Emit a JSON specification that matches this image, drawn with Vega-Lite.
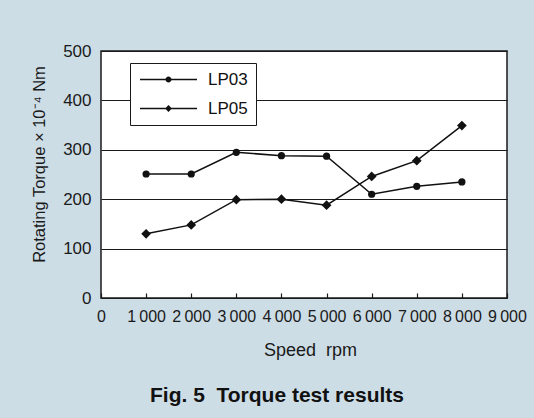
{
  "$schema": "https://vega.github.io/schema/vega-lite/v6.json",
  "width": 406,
  "height": 247,
  "autosize": {"type": "none"},
  "padding": {"left": 101, "top": 51, "right": 27, "bottom": 120},
  "background": "#cddde6",
  "config": {
    "font": "Liberation Sans",
    "view": {"fill": "white", "stroke": "#1a1a1a", "strokeWidth": 1.5},
    "axis": {"labelColor": "#1a1a1a", "titleColor": "#1a1a1a", "titleFontWeight": "normal"}
  },
  "title": {
    "text": "Fig. 5\u00a0\u00a0Torque test results",
    "orient": "bottom",
    "fontSize": 21,
    "fontWeight": "bold",
    "color": "#111111",
    "anchor": "middle",
    "dx": -27,
    "offset": 26
  },
  "data": {
    "values": [
      {"speed": 1000, "torque": 251, "series": "LP03"},
      {"speed": 2000, "torque": 251, "series": "LP03"},
      {"speed": 3000, "torque": 295, "series": "LP03"},
      {"speed": 4000, "torque": 288, "series": "LP03"},
      {"speed": 5000, "torque": 287, "series": "LP03"},
      {"speed": 6000, "torque": 210, "series": "LP03"},
      {"speed": 7000, "torque": 226, "series": "LP03"},
      {"speed": 8000, "torque": 235, "series": "LP03"},
      {"speed": 1000, "torque": 130, "series": "LP05"},
      {"speed": 2000, "torque": 148, "series": "LP05"},
      {"speed": 3000, "torque": 199, "series": "LP05"},
      {"speed": 4000, "torque": 200, "series": "LP05"},
      {"speed": 5000, "torque": 188, "series": "LP05"},
      {"speed": 6000, "torque": 246, "series": "LP05"},
      {"speed": 7000, "torque": 278, "series": "LP05"},
      {"speed": 8000, "torque": 349, "series": "LP05"}
    ]
  },
  "encoding": {
    "x": {
      "field": "speed",
      "type": "quantitative",
      "scale": {"domain": [0, 9000], "nice": false},
      "axis": {
        "values": [0, 1000, 2000, 3000, 4000, 5000, 6000, 7000, 8000, 9000],
        "labelExpr": "datum.value == 0 ? '0' : replace(format(datum.value, ','), ',', '\u2009')",
        "grid": false,
        "domain": false,
        "tickSize": -5,
        "tickColor": "#1a1a1a",
        "tickWidth": 1.2,
        "labelFontSize": 16,
        "labelPadding": 15,
        "labelFlush": false,
        "title": "Speed\u00a0\u00a0rpm",
        "titleFontSize": 18,
        "titleX": 209,
        "titleY": 52,
        "titleBaseline": "middle"
      }
    },
    "y": {
      "field": "torque",
      "type": "quantitative",
      "scale": {"domain": [0, 500], "nice": false},
      "axis": {
        "values": [0, 100, 200, 300, 400, 500],
        "grid": true,
        "gridColor": "#1a1a1a",
        "gridWidth": 1,
        "gridOpacity": 1,
        "ticks": false,
        "domain": false,
        "labelFontSize": 17,
        "labelPadding": 10,
        "title": "Rotating Torque × 10⁻⁴ Nm",
        "titleFontSize": 16.5,
        "titleX": -57,
        "titleY": 113,
        "titleBaseline": "alphabetic"
      }
    }
  },
  "layer": [
    {
      "mark": {"type": "line", "color": "#111111", "strokeWidth": 1.5},
      "encoding": {"detail": {"field": "series", "type": "nominal"}}
    },
    {
      "mark": {"type": "point", "filled": true, "color": "#111111", "opacity": 0},
      "encoding": {
        "shape": {
          "field": "series",
          "type": "nominal",
          "scale": {"range": [
            "M-1.3,-0.14H10.1V0.14H-1.3ZM3.8,0A0.6,0.6 0 1,1 5.0,0A0.6,0.6 0 1,1 3.8,0Z",
            "M-1.3,-0.14H10.1V0.14H-1.3ZM4.4,-0.68L5.08,0L4.4,0.68L3.72,0Z"
          ]},
          "legend": {
            "orient": "none",
            "legendX": 29,
            "legendY": 12,
            "title": null,
            "fillColor": "white",
            "strokeColor": "#1a1a1a",
            "padding": 8,
            "symbolSize": 100,
            "symbolOpacity": 1,
            "symbolFillColor": "#111111",
            "labelFontSize": 17,
            "labelColor": "#111111",
            "labelOffset": 53,
            "rowPadding": 11
          }
        }
      }
    },
    {
      "transform": [{"filter": "datum.series === 'LP03'"}],
      "mark": {"type": "point", "filled": true, "color": "#111111", "opacity": 1, "shape": "circle", "size": 52}
    },
    {
      "transform": [{"filter": "datum.series === 'LP05'"}],
      "mark": {"type": "point", "filled": true, "color": "#111111", "opacity": 1, "shape": "diamond", "size": 95}
    }
  ]
}
